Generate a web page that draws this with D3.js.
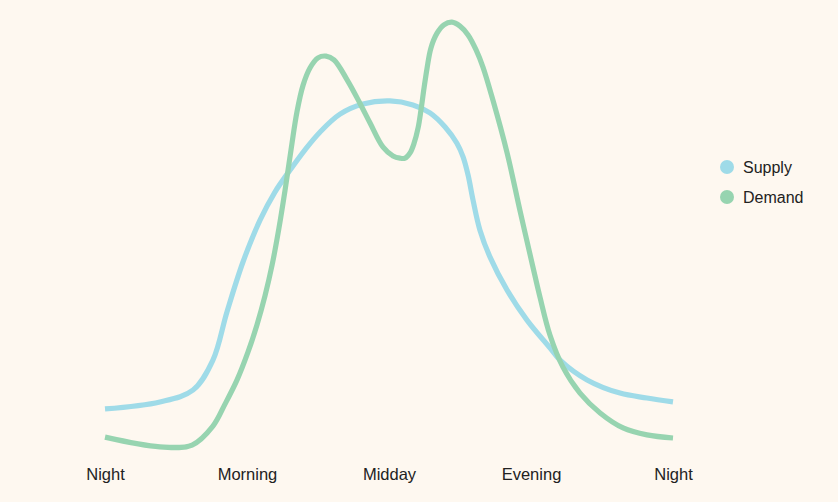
<!DOCTYPE html>
<html><head><meta charset="utf-8">
<script src="https://cdn.jsdelivr.net/npm/d3@7"></script>
<style>html,body{margin:0;padding:0;background:#fef8f0;}svg{display:block;}</style>
</head><body><svg id="c" width="838" height="502"></svg>
<script>
const tickHours = [0, 6, 12, 18, 24];
const tickLabels = ["Night", "Morning", "Midday", "Evening", "Night"];
const seriesNames = ["Supply", "Demand"];
const seriesColors = ["#9fdbe8", "#97d4b0"];

const supplyHours = [0, 2.32, 3.72, 4.56, 5.15, 5.83, 6.55, 7.18, 7.82, 8.45, 9.08, 9.93, 10.90, 12.04, 13.01, 13.73, 14.37, 14.87, 15.13, 15.34, 15.55, 15.84, 16.27, 16.99, 17.83, 18.80, 19.23, 20.37, 21.76, 22.90, 24];
const supplyValues = [11.6, 13.2, 15.9, 22.7, 33.6, 45.0, 54.5, 60.9, 65.9, 70.5, 74.5, 78.6, 80.9, 81.6, 80.7, 78.9, 75.7, 72.0, 68.9, 64.8, 59.1, 52.3, 46.1, 38.6, 31.8, 25.5, 22.7, 18.2, 15.2, 14.1, 13.2];

const demandHours = [0, 2.32, 3.68, 4.56, 5.07, 5.58, 6.04, 6.42, 6.76, 7.06, 7.35, 7.61, 7.86, 8.11, 8.37, 8.66, 9.00, 9.34, 9.68, 10.23, 10.77, 11.20, 11.75, 12.17, 12.46, 12.68, 12.89, 13.06, 13.23, 13.35, 13.48, 13.61, 13.77, 14.03, 14.32, 14.66, 15.0, 15.34, 15.68, 15.97, 16.39, 16.99, 17.53, 18.08, 18.38, 18.80, 19.35, 20.07, 20.92, 21.89, 22.90, 24];
const demandValues = [5.2, 3.0, 3.4, 7.7, 12.7, 18.2, 24.5, 30.7, 37.3, 44.3, 52.7, 61.4, 70.5, 79.1, 85.2, 89.1, 91.4, 91.8, 90.9, 86.4, 81.1, 76.6, 71.1, 69.1, 68.6, 68.6, 69.8, 72.0, 75.5, 79.5, 84.5, 89.1, 93.6, 97.0, 98.9, 99.5, 98.6, 96.6, 93.2, 89.3, 81.8, 69.8, 56.8, 43.9, 37.0, 28.4, 21.1, 15.2, 10.7, 7.3, 5.7, 5.0];

const svg = d3.select("#c");
svg.append("rect").attr("width", 838).attr("height", 502).attr("fill", "#fef8f0");

const x = d3.scaleLinear().domain([0, 24]).range([105, 673]);
const y = d3.scaleLinear().domain([0, 100]).range([460, 20]);

const series = [
  supplyHours.map((h, i) => [h, supplyValues[i]]),
  demandHours.map((h, i) => [h, demandValues[i]])
];

const line = d3.line().x(d => x(d[0])).y(d => y(d[1])).curve(d3.curveCatmullRom.alpha(0.5));

series.forEach((pts, i) => {
  svg.append("path").attr("d", line(pts)).attr("fill", "none")
    .attr("stroke", seriesColors[i]).attr("stroke-width", 5.2)
    .attr("stroke-linejoin", "round");
});

const xAxis = d3.axisBottom(x).tickValues(tickHours).tickFormat((d, i) => tickLabels[i]).tickSize(0).tickPadding(0);
const gx = svg.append("g").attr("transform", "translate(0,468)").call(xAxis);
gx.select(".domain").remove();
gx.selectAll("text").attr("font-family", "'Liberation Sans', Arial, sans-serif")
  .attr("font-size", 16.5).attr("fill", "#222").attr("dy", "0.71em");

const leg = svg.append("g");
seriesNames.forEach((n, i) => {
  const g = leg.append("g").attr("transform", `translate(727,${167 + i * 30})`);
  g.append("circle").attr("r", 7).attr("fill", seriesColors[i]);
  g.append("text").attr("x", 16).attr("y", 0).attr("dy", "0.35em")
    .attr("font-family", "'Liberation Sans', Arial, sans-serif").attr("font-size", 16)
    .attr("fill", "#222").text(n);
});
</script></body></html>
